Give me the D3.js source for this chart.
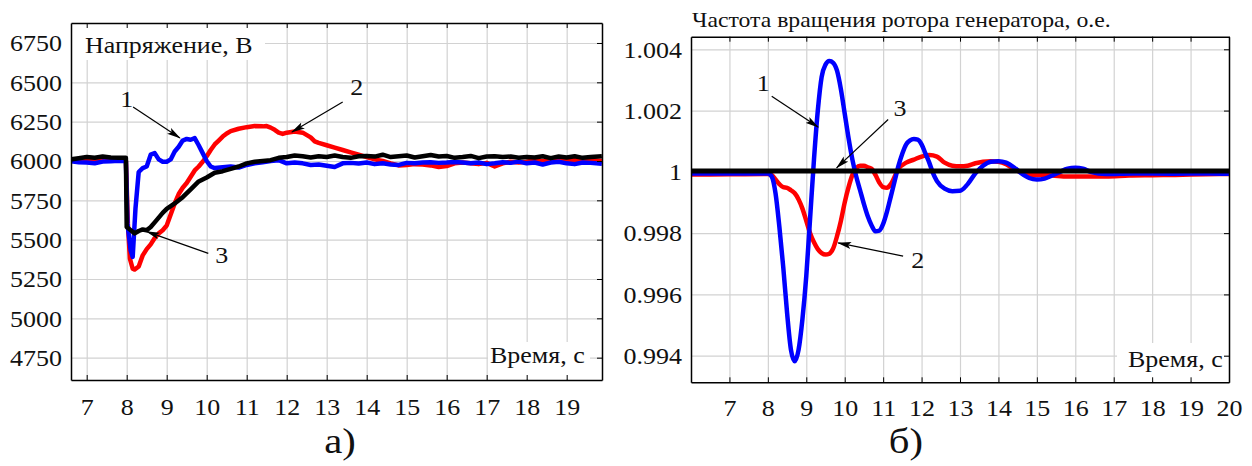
<!DOCTYPE html>
<html>
<head>
<meta charset="utf-8">
<script src="https://cdn.jsdelivr.net/npm/d3@7"></script>
<style>
  body { margin: 0; background: #fff; }
</style>
</head>
<body>
<svg width="1252" height="466"></svg>
<script>
// ---- data ----
var voltTicks = [4750, 5000, 5250, 5500, 5750, 6000, 6250, 6500, 6750];
var timeTicksA = [7, 8, 9, 10, 11, 12, 13, 14, 15, 16, 17, 18, 19];
var freqTicks = [0.994, 0.996, 0.998, 1, 1.002, 1.004];
var timeTicksB = [7, 8, 9, 10, 11, 12, 13, 14, 15, 16, 17, 18, 19, 20];

// voltage, curve 1 (blue)
var volt1 = [[6.6,5998],[6.8,5992],[7.0,5990],[7.2,5986],[7.4,5996],[7.6,5998],[7.8,6002],[7.98,6000],
  [8.02,5600],[8.1,5430],[8.15,5390],[8.22,5700],[8.3,5930],[8.4,5955],[8.5,5965],[8.6,6040],[8.7,6050],
  [8.8,6010],[8.9,5995],[9.0,5995],[9.1,6010],[9.2,6060],[9.3,6090],[9.4,6130],[9.5,6140],[9.6,6135],
  [9.7,6145],[9.8,6100],[9.9,6050],[10.0,6000],[10.1,5965],[10.2,5955],[10.4,5960],[10.6,5965],[10.8,5958],
  [11.0,5975],[11.2,5985],[11.4,5992],[11.6,6000],[11.8,6005],[12.0,5985],[12.2,5990],[12.4,5985],
  [12.6,5975],[12.8,5978],[13.0,5970],[13.2,5962],[13.4,5985],[13.6,5988],[13.8,5984],[14.0,5990],
  [14.2,5980],[14.4,5985],[14.6,5978],[14.8,5975],[15.0,5988],[15.2,5985],[15.4,5990],[15.6,5992],
  [15.8,5988],[16.0,5990],[16.2,5994],[16.4,5990],[16.6,5985],[16.8,5990],[17.0,5980],[17.2,5985],
  [17.4,5992],[17.6,5988],[17.8,5996],[18.0,5985],[18.2,5990],[18.4,5978],[18.6,5990],[18.8,5995],
  [19.0,5985],[19.2,5980],[19.4,5990],[19.6,5988],[19.88,5982]];
// voltage, curve 2 (red)
var volt2 = [[6.6,6005],[6.8,6010],[7.0,6008],[7.2,6000],[7.4,6003],[7.6,6012],[7.8,6005],[7.98,6005],
  [8.03,5600],[8.08,5380],[8.15,5315],[8.2,5310],[8.3,5330],[8.4,5400],[8.5,5440],[8.6,5470],[8.7,5510],
  [8.8,5540],[8.9,5560],[9.0,5590],[9.1,5660],[9.2,5730],[9.3,5790],[9.4,5830],[9.5,5860],[9.6,5900],
  [9.7,5940],[9.8,5965],[9.9,5995],[10.0,6030],[10.1,6070],[10.2,6105],[10.3,6130],[10.4,6155],
  [10.5,6175],[10.6,6190],[10.8,6205],[11.0,6215],[11.2,6222],[11.4,6220],[11.5,6222],[11.6,6212],
  [11.7,6198],[11.8,6180],[11.9,6172],[12.0,6180],[12.2,6188],[12.4,6180],[12.6,6150],[12.7,6125],
  [12.8,6115],[13.0,6100],[13.2,6085],[13.4,6070],[13.6,6055],[13.8,6040],[14.0,6025],[14.2,6010],
  [14.4,6000],[14.6,5985],[14.8,5972],[15.0,5975],[15.2,5980],[15.4,5978],[15.6,5972],[15.8,5962],
  [16.0,5968],[16.2,5985],[16.4,5990],[16.6,5985],[16.8,5980],[17.0,5988],[17.2,5965],[17.4,5985],
  [17.6,5995],[17.8,5990],[18.0,5995],[18.2,6005],[18.4,5998],[18.6,6005],[18.8,6010],[19.0,6000],
  [19.2,6008],[19.4,6002],[19.6,6005],[19.88,6000]];
// voltage, curve 3 (black)
var volt3 = [[6.6,6010],[6.8,6018],[7.0,6025],[7.2,6020],[7.4,6028],[7.6,6022],[7.8,6020],[7.98,6020],
  [8.0,5580],[8.1,5560],[8.2,5540],[8.3,5555],[8.4,5565],[8.5,5560],[8.6,5580],[8.7,5610],[8.8,5640],
  [8.9,5670],[9.0,5695],[9.2,5730],[9.4,5770],[9.6,5820],[9.8,5870],[10.0,5895],[10.2,5925],[10.4,5935],
  [10.6,5950],[10.8,5965],[11.0,5985],[11.2,5995],[11.4,6000],[11.6,6005],[11.8,6020],[12.0,6025],
  [12.2,6035],[12.4,6030],[12.6,6022],[12.8,6030],[13.0,6025],[13.2,6035],[13.4,6025],[13.6,6020],
  [13.8,6030],[14.0,6032],[14.2,6028],[14.4,6040],[14.6,6025],[14.8,6030],[15.0,6035],[15.2,6022],
  [15.4,6030],[15.6,6038],[15.8,6028],[16.0,6032],[16.2,6020],[16.4,6025],[16.6,6032],[16.8,6018],
  [17.0,6028],[17.2,6030],[17.4,6025],[17.6,6028],[17.8,6020],[18.0,6025],[18.2,6022],[18.4,6030],
  [18.6,6018],[18.8,6028],[19.0,6022],[19.2,6030],[19.4,6020],[19.6,6025],[19.88,6030]];

// rotor speed, curve 1 (blue)
var freq1 = [[6.0,0.99995],[7.0,0.99995],[8.0,0.99995],[8.1,0.99985],[8.2,0.9993],[8.3,0.9982],
  [8.4,0.9969],[8.5,0.9954],[8.6,0.9942],[8.7,0.99382],[8.8,0.9942],[8.9,0.9952],[9.0,0.9966],
  [9.1,0.9985],[9.2,1.0004],[9.3,1.0020],[9.4,1.0031],[9.5,1.0035],[9.6,1.00362],[9.7,1.00356],
  [9.8,1.0033],[9.9,1.0027],[10.0,1.0019],[10.1,1.0011],[10.2,1.0004],[10.3,0.99985],[10.4,0.9994],
  [10.5,0.99895],[10.6,0.99855],[10.7,0.99825],[10.8,0.99806],[10.9,0.99808],[11.0,0.9983],
  [11.1,0.9987],[11.2,0.9992],[11.3,0.9997],[11.4,1.0002],[11.5,1.0006],[11.6,1.0009],[11.7,1.00103],
  [11.8,1.00107],[11.9,1.00105],[12.0,1.0009],[12.1,1.0006],[12.2,1.0003],[12.3,0.99995],[12.4,0.9997],
  [12.6,0.99945],[12.8,0.99937],[13.0,0.99938],[13.2,0.9996],[13.4,0.99995],[13.6,1.0002],
  [13.8,1.00033],[14.0,1.00035],[14.2,1.0003],[14.4,1.00015],[14.6,0.99995],[14.8,0.9998],
  [15.0,0.99975],[15.2,0.99978],[15.4,0.99988],[15.6,1.0],[15.8,1.0001],[16.0,1.00013],[16.2,1.0001],
  [16.4,1.0],[16.8,0.99993],[17.5,0.99995],[18.5,0.99994],[19.5,0.99995],[20.0,0.99994]];
// rotor speed, curve 2 (red)
var freq2 = [[6.0,0.99991],[7.0,0.99992],[8.0,0.99993],[8.1,0.9999],[8.2,0.99975],[8.3,0.9996],
  [8.4,0.9995],[8.5,0.99948],[8.6,0.9994],[8.7,0.9993],[8.8,0.9991],[8.9,0.9988],[9.0,0.9984],
  [9.1,0.9980],[9.2,0.9977],[9.3,0.99748],[9.4,0.99735],[9.5,0.9973],[9.6,0.99733],[9.7,0.9975],
  [9.8,0.9979],[9.9,0.9984],[10.0,0.9990],[10.1,0.9995],[10.2,0.9999],[10.3,1.00012],[10.4,1.0002],
  [10.5,1.0002],[10.6,1.00015],[10.7,1.0001],[10.8,0.9999],[10.9,0.99965],[11.0,0.9995],[11.1,0.99948],
  [11.2,0.9996],[11.4,1.0001],[11.6,1.0003],[11.8,1.0004],[12.0,1.0005],[12.2,1.00055],[12.4,1.0005],
  [12.6,1.0003],[12.8,1.0002],[13.0,1.00018],[13.2,1.0002],[13.4,1.00028],[13.6,1.00033],[13.8,1.00035],
  [14.0,1.00033],[14.2,1.00025],[14.4,1.0001],[14.6,0.99998],[14.8,0.9999],[15.0,0.9999],[15.4,0.99988],
  [15.8,0.99985],[16.2,0.99985],[16.8,0.99985],[17.4,0.99988],[18.0,0.99989],[18.6,0.9999],
  [19.4,0.99992],[20.0,0.99993]];
// rotor speed, curve 3 (black)
var freq3 = [[6.0,1.00003],[10.0,1.00003],[14.0,1.00003],[20.0,1.00003]];

// annotation arrows: label position, arrow start, arrow end (data units)
var notesA = [
  {text: "1", at: [8.0, 6394], from: [8.16, 6343], to: [9.33, 6146]},
  {text: "2", at: [13.75, 6470], from: [13.4, 6375], to: [12.13, 6184]},
  {text: "3", at: [10.375, 5403], from: [10.04, 5413], to: [8.5, 5551]}
];
var notesB = [
  {text: "1", at: [7.88, 1.0029], from: [8.1, 1.00247], to: [9.31, 1.00146]},
  {text: "3", at: [11.44, 1.00209], from: [11.13, 1.00171], to: [9.79, 1.00013]},
  {text: "2", at: [11.9, 0.99714], from: [11.52, 0.99725], to: [9.83, 0.99768]}
];

// ---- drawing ----
var SX = 1.13;
var FONT = "'Liberation Serif'";
var svg = d3.select("svg");

svg.append("defs").append("marker")
  .attr("id", "arrow")
  .attr("markerUnits", "userSpaceOnUse")
  .attr("viewBox", "0 -4 14 8")
  .attr("refX", 13).attr("refY", 0)
  .attr("markerWidth", 14).attr("markerHeight", 8)
  .attr("orient", "auto")
  .append("path")
  .attr("d", "M0,-3.5L14,0L0,3.5L3,0Z")
  .attr("fill", "#000");

function stext(g, x, y, str, size, anchor) {
  return g.append("text")
    .attr("transform", "translate(" + x + "," + y + ") scale(" + SX + ",1)")
    .style("font-family", FONT)
    .attr("font-size", size)
    .attr("fill", "#111")
    .attr("text-anchor", anchor || "start")
    .text(str);
}

function panel(cfg) {
  var x = d3.scaleLinear().domain(cfg.xDomain).range([cfg.left, cfg.right]);
  var y = d3.scaleLinear().domain(cfg.yDomain).range([cfg.bottom, cfg.top]);
  var w = cfg.right - cfg.left, h = cfg.bottom - cfg.top;
  var g = svg.append("g");

  // grid
  g.append("g").attr("transform", "translate(0," + cfg.bottom + ")")
    .call(d3.axisBottom(x).tickValues(cfg.xTicks).tickSize(-h).tickFormat(""))
    .call(function(a){ a.select(".domain").remove(); a.selectAll("line").attr("stroke", "#d2d2d2").attr("stroke-width", 1.2); });
  g.append("g").attr("transform", "translate(" + cfg.left + ",0)")
    .call(d3.axisLeft(y).tickValues(cfg.yTicks).tickSize(-w).tickFormat(""))
    .call(function(a){ a.select(".domain").remove(); a.selectAll("line").attr("stroke", "#d2d2d2").attr("stroke-width", 1.2); });

  // white boxes behind in-plot captions
  cfg.boxes.forEach(function(b){
    g.append("rect").attr("x", b[0]).attr("y", b[1]).attr("width", b[2]).attr("height", b[3]).attr("fill", "#fff");
  });

  // lines
  var clipId = "clip" + cfg.id;
  svg.select("defs").append("clipPath").attr("id", clipId)
    .append("rect").attr("x", cfg.left).attr("y", cfg.top).attr("width", w).attr("height", h);
  var line = d3.line().x(function(d){ return x(d[0]); }).y(function(d){ return y(d[1]); }).curve(cfg.curve);
  var lg = g.append("g").attr("clip-path", "url(#" + clipId + ")");
  cfg.series.forEach(function(s){
    lg.append("path").datum(s.data)
      .attr("d", line)
      .attr("fill", "none")
      .attr("stroke", s.color)
      .attr("stroke-width", s.width)
      .attr("stroke-linejoin", "round");
  });

  // frame with inward ticks
  var tk = function(a){ a.selectAll("line").attr("stroke", "#000"); a.select(".domain").attr("stroke", "#000").attr("stroke-width", 1.5); };
  g.append("g").attr("transform", "translate(0," + cfg.top + ")")
    .call(d3.axisTop(x).tickValues(cfg.xTicks).tickSizeInner(-5).tickSizeOuter(0).tickFormat("")).call(tk);
  g.append("g").attr("transform", "translate(" + cfg.right + ",0)")
    .call(d3.axisRight(y).tickValues(cfg.yTicks).tickSizeInner(-5).tickSizeOuter(0).tickFormat("")).call(tk);

  var bx = g.append("g").attr("transform", "translate(0," + cfg.bottom + ")")
    .call(d3.axisBottom(x).tickValues(cfg.xTicks).tickSizeInner(-5).tickSizeOuter(0).tickPadding(cfg.xPad))
    .call(tk);
  bx.selectAll("text").style("font-family", FONT).attr("font-size", 23).attr("fill", "#111")
    .attr("transform", "scale(" + SX + ",1)");
  var by = g.append("g").attr("transform", "translate(" + cfg.left + ",0)")
    .call(d3.axisLeft(y).tickValues(cfg.yTicks).tickSize(0).tickPadding(8).tickFormat(cfg.yFormat))
    .call(tk);
  by.selectAll("text").style("font-family", FONT).attr("font-size", 23).attr("fill", "#111")
    .attr("dy", "0.34em").attr("transform", "scale(" + SX + ",1)");

  // arrows and numbers
  cfg.notes.forEach(function(n){
    g.append("line")
      .attr("x1", x(n.from[0])).attr("y1", y(n.from[1]))
      .attr("x2", x(n.to[0])).attr("y2", y(n.to[1]))
      .attr("stroke", "#000").attr("stroke-width", 1.2)
      .attr("marker-end", "url(#arrow)");
    stext(g, x(n.at[0]), y(n.at[1]), n.text, 23, "middle").attr("dy", "0.35em");
  });

  return {x: x, y: y, g: g};
}

var pa = panel({
  id: "a", left: 71, right: 602, top: 23, bottom: 380,
  xDomain: [6.6075, 19.883], yDomain: [4608, 6877],
  xTicks: timeTicksA, yTicks: voltTicks, xPad: 19,
  yFormat: d3.format("d"),
  curve: d3.curveLinear,
  boxes: [[72, 24, 193, 36], [488, 342, 102, 37]],
  series: [
    {data: volt2, color: "#ff0000", width: 4.5},
    {data: volt1, color: "#0000ff", width: 4.5},
    {data: volt3, color: "#000000", width: 4.5}
  ],
  notes: notesA
});
stext(pa.g, 85, 53, "Напряжение, В", 23, "start");
stext(pa.g, 490, 363, "Время, с", 23, "start");
stext(pa.g, 340, 453, "а)", 36, "middle");

var pb = panel({
  id: "b", left: 691, right: 1229, top: 36.7, bottom: 382.3,
  xDomain: [6, 20], yDomain: [0.993132, 1.004411],
  xTicks: timeTicksB, yTicks: freqTicks, xPad: 17,
  yFormat: function(d){ return d === 1 ? "1" : d.toFixed(3); },
  curve: d3.curveMonotoneX,
  boxes: [[1117, 343, 107, 38]],
  series: [
    {data: freq2, color: "#ff0000", width: 4.5},
    {data: freq1, color: "#0000ff", width: 4.5},
    {data: freq3, color: "#000000", width: 5}
  ],
  notes: notesB
});
stext(pb.g, 692, 27, "Частота вращения ротора генератора, о.е.", 21, "start");
stext(pb.g, 1128, 367, "Время, с", 23, "start");
stext(pb.g, 906, 453, "б)", 36, "middle");
</script>
</body>
</html>
